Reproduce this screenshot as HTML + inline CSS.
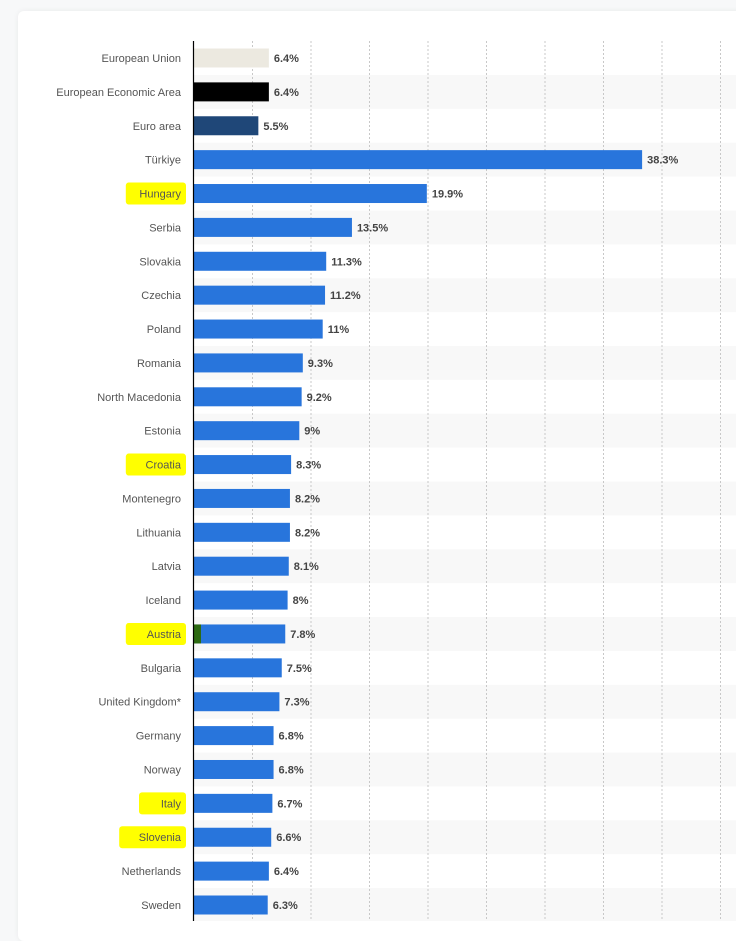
<!DOCTYPE html>
<html><head><meta charset="utf-8"><style>
body{margin:0;width:736px;height:921px;background:#f7f8f9;overflow:hidden;font-family:"Liberation Sans",sans-serif}
#card{position:absolute;left:18px;top:11px;width:730px;height:930px;background:#fff;border-radius:6px;box-shadow:0 0 6px rgba(0,0,0,.06)}
</style></head><body>
<div id="card"></div>
<svg id="chart" width="736" height="921" style="position:absolute;left:0;top:0"></svg>
<script>
const categories=["European Union","European Economic Area","Euro area","Türkiye","Hungary","Serbia","Slovakia","Czechia","Poland","Romania","North Macedonia","Estonia","Croatia","Montenegro","Lithuania","Latvia","Iceland","Austria","Bulgaria","United Kingdom*","Germany","Norway","Italy","Slovenia","Netherlands","Sweden"];
const values=[6.4,6.4,5.5,38.3,19.9,13.5,11.3,11.2,11,9.3,9.2,9,8.3,8.2,8.2,8.1,8,7.8,7.5,7.3,6.8,6.8,6.7,6.6,6.4,6.3];
const valueLabels=["6.4%","6.4%","5.5%","38.3%","19.9%","13.5%","11.3%","11.2%","11%","9.3%","9.2%","9%","8.3%","8.2%","8.2%","8.1%","8%","7.8%","7.5%","7.3%","6.8%","6.8%","6.7%","6.6%","6.4%","6.3%"];
const highlighted=["Hungary","Croatia","Austria","Italy","Slovenia"];
const gridTicks=[5,10,15,20,25,30,35,40,45];
const NS="http://www.w3.org/2000/svg";
const svg=document.getElementById('chart');
const x0=194,pxPer=11.7,y0=58,step=33.88;
const xs=v=>x0+v*pxPer, ys=i=>y0+i*step;
function mk(t,a){const e=document.createElementNS(NS,t);for(const k in a)e.setAttribute(k,a[k]);svg.appendChild(e);return e;}
categories.forEach((c,i)=>{if(i%2===1){const r=mk('rect',{x:193,y:ys(i)-step/2,width:560,height:step,fill:'#f8f8f8'});

}});
gridTicks.forEach(t=>{const l=mk('line',{x1:xs(t),x2:xs(t),y1:41,y2:921,stroke:'#c8c8c8','stroke-dasharray':'2,2'});

});
categories.forEach((c,i)=>{
 const y=ys(i);
 if(highlighted.includes(c)){const w=c.length*6.6+14;const h=mk('rect',{x:186-w,y:y-11,width:w,height:22,fill:'#ffff00',rx:3});
 
 }
 const t=mk('text',{x:181,y:y+4,'text-anchor':'end','font-size':'11',fill:'#555'});t.textContent=c;
 
 
 const col=i===0?'#ece9e0':i===1?'#000':i===2?'#1f4778':'#2875dc';
 const b=mk('rect',{x:x0,y:y-9.5,width:xs(values[i])-x0,height:19,fill:col});
 
 
 if(c==='Austria'){const g=mk('rect',{x:x0,y:y-9.5,width:7,height:19,fill:'#2d6a12'});
 
 }
 const v=mk('text',{x:xs(values[i])+5,y:y+4,'font-size':'11','font-weight':'bold',fill:'#444'});v.textContent=valueLabels[i];
 
 
});
const ax=mk('line',{x1:193.5,x2:193.5,y1:41,y2:921,stroke:'#000','stroke-width':1.2});


</script>
</body></html>
